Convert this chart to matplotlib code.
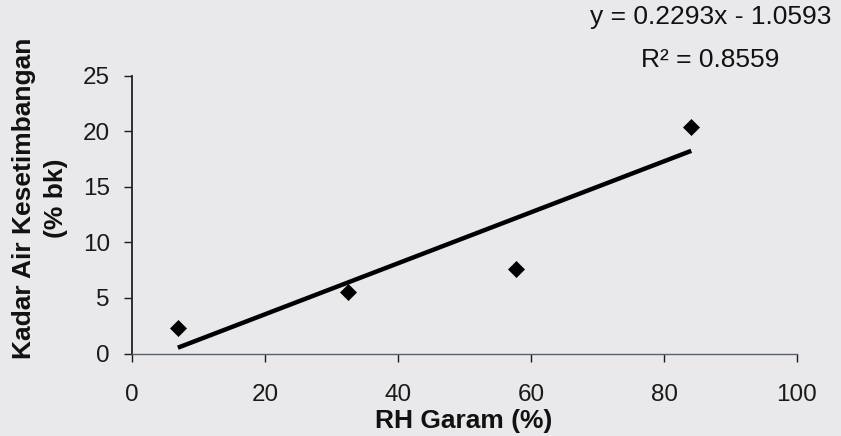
import matplotlib
matplotlib.use("Agg")
import matplotlib.pyplot as plt
import numpy as np

# Data
rh_garam = [6.9, 32.5, 57.7, 84.1]          # RH Garam (%)
kadar_air = [2.25, 5.5, 7.6, 20.4]          # Kadar Air Kesetimbangan (% bk)
slope = 0.2293
intercept = -1.0593
eq_text = "y = 0.2293x - 1.0593"
r2_text = "R² = 0.8559"
x_ticks = [0, 20, 40, 60, 80, 100]
y_ticks = [0, 5, 10, 15, 20, 25]

plt.rcParams['font.family'] = ['Liberation Sans', 'DejaVu Sans']

bg = '#e9e9eb'
fig = plt.figure(figsize=(8.41, 4.36), dpi=100, facecolor=bg)
ax = fig.add_axes([132/841, 1-353.5/436, (797-132)/841, (353.5-75.5)/436])
ax.set_facecolor(bg)

# scatter points
ax.plot(rh_garam, kadar_air, linestyle='none', marker='D', ms=8,
        color='black', mew=0.5, clip_on=False, zorder=3)

# trend line
xl = np.array([min(rh_garam), max(rh_garam)])
ax.plot(xl, slope*xl + intercept, color='black', lw=3.2, solid_capstyle='butt', zorder=2)

ax.set_xlim(0, 100)
ax.set_ylim(0, 25)
ax.set_xticks(x_ticks)
ax.set_yticks(y_ticks)
ax.set_xticklabels([str(v) for v in x_ticks])
ax.set_yticklabels([str(v) for v in y_ticks])

for s in ['top', 'right']:
    ax.spines[s].set_visible(False)
ax.spines['left'].set_linewidth(1.3)
ax.spines['left'].set_color('#222222')
ax.spines['bottom'].set_linewidth(1.0)
ax.spines['bottom'].set_color('#556070')

ax.tick_params(axis='y', direction='out', length=6, width=1.0, pad=10,
               labelsize=17.5, colors='#1a1a1a')
ax.tick_params(axis='x', direction='out', length=6, width=1.0, pad=16,
               labelsize=17.5, colors='#1a1a1a')

fig.text(464/841, 1-421/436, "RH Garam (%)", ha='center', va='center',
         fontsize=19, fontweight='bold', color='#111111')
fig.text(40/841, 1-198/436, "Kadar Air Kesetimbangan\n(% bk)", rotation=90,
         ha='center', va='center', multialignment='center', linespacing=1.4,
         fontsize=19, fontweight='bold', color='#111111')

fig.text(711/841, 1-17/436, eq_text, ha='center', va='center', fontsize=19, color='#111111')
fig.text(710/841, 1-60/436, r2_text, ha='center', va='center', fontsize=19, color='#111111')

fig.savefig("out.png", dpi=100, facecolor=bg)
